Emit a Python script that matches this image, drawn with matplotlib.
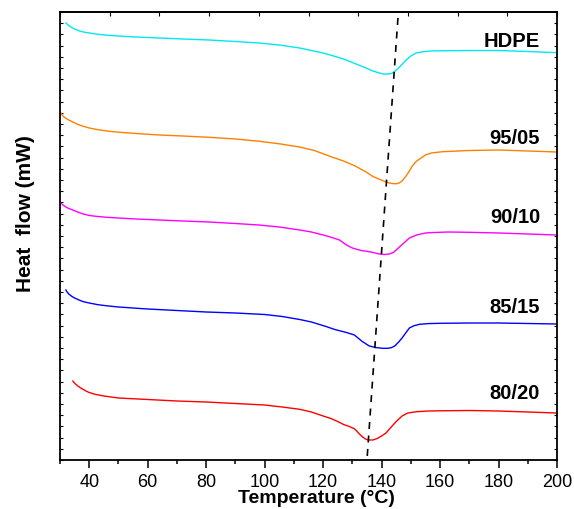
import numpy as np
import matplotlib
matplotlib.use('Agg')
import matplotlib.pyplot as plt

# DSC heating curves. Heat flow is in arbitrary offset units
# (curves are stacked), given as depth below the top of the frame.
T_hdpe = [32, 32.5, 33, 34, 35, 36.5, 38, 40, 43, 46, 50, 56, 64, 72, 81, 90, 98, 105, 112,
          116, 120, 123, 127, 130, 134.7, 137, 139.3, 140.2, 141, 142.5, 143.3, 144, 145,
          146.5, 148.4, 150, 151.8, 154, 157, 160, 170, 180, 190, 200]
d_hdpe = [23, 24.3, 25.5, 27.5, 29, 30.8, 32, 33, 34.3, 35.2, 36, 37, 38, 39, 40, 41.5, 43,
          45, 48, 50.5, 53, 55.5, 59, 62.5, 68, 71, 73, 73.7, 74, 74, 73.5, 72.5, 70, 66, 60,
          56, 53, 51.8, 51, 50.8, 50.5, 50.5, 51.5, 52.7]

T_9505 = [30, 30.5, 31, 32, 33, 34.4, 36, 38, 40, 43, 46, 50, 56, 64, 72, 81, 90, 98, 105,
          112, 117, 123, 127, 131, 134.7, 137, 139.9, 142, 143.5, 145, 146, 147, 148.4,
          149.5, 150.5, 152, 155, 157, 160.8, 170, 180, 190, 200]
d_9505 = [112, 114, 116, 118.3, 120, 122, 124.3, 126.3, 128, 129.7, 131, 132.2, 133.5, 135,
          136, 137.3, 139, 141.2, 143.8, 147, 150.5, 157, 161, 166, 172, 176.5, 180, 182.5,
          183.5, 183.8, 183, 181, 176, 171, 166, 161, 155, 153, 151.7, 150.5, 150, 151, 152]

T_9010 = [30, 30.5, 31, 32, 33, 34.4, 36, 38, 40, 43, 46, 50, 56, 64, 72, 81, 90, 98, 105,
          112, 116, 120, 122.5, 125.6, 128, 130, 133, 136.4, 139.2, 141, 142.6, 144, 145,
          146.5, 148, 149.5, 152, 155, 158, 162.7, 170, 180, 190, 200]
d_9010 = [202, 203.5, 205, 207, 208.5, 210, 212, 214, 215.5, 216.5, 217.3, 218, 219, 220,
          221, 222, 223.5, 225, 227, 230, 232, 235, 237, 240, 245, 248, 250.5, 252, 254,
          254.5, 254, 252.5, 250, 246, 242, 238, 235, 233, 232.5, 232, 232.3, 233, 234, 235]

T_8515 = [32, 32.5, 33, 34, 35, 36.5, 38, 40, 43, 46, 50, 60, 70, 80, 90, 100, 106, 112,
          116, 121, 124, 126, 128, 130.7, 133.4, 135.8, 138, 140.3, 142, 143.3, 144.5, 146,
          147, 148, 149.5, 151, 153, 156, 160, 170, 180, 190, 200]
d_8515 = [290, 292.2, 294, 296.3, 298, 300, 301.7, 303, 304.7, 305.8, 307, 309, 310.5, 312,
          313, 314.5, 316.5, 319.5, 322, 326.5, 329.5, 331, 332.5, 335, 341.5, 346, 347.5,
          348.3, 348.3, 347.7, 346, 341.5, 338, 334, 328, 325.8, 324.3, 323.6, 323.3, 323,
          323, 323.5, 324]

T_8020 = [34.4, 34.8, 35.3, 36, 37, 38, 39, 40, 42, 45, 50, 60, 70, 80, 90, 100, 106, 112,
          116, 120, 122.5, 125, 127, 129, 130.7, 131.5, 132.4, 133.5, 134.5, 135.5, 137,
          138.5, 140, 141.5, 143, 145, 147, 149, 152, 156, 160, 170, 180, 190, 200]
d_8020 = [381, 382.5, 384, 385.8, 387.8, 389.5, 391.2, 392.5, 394.3, 396, 398, 399.5, 401,
          402, 403.5, 405, 407, 409.3, 412, 416, 418.3, 421.5, 424.5, 426.5, 428.8, 431,
          434, 437, 439, 440, 440, 438.5, 436, 433, 428, 421.5, 416, 413, 411.7, 411,
          410.8, 410.5, 411, 412, 413]

series = [
    ('HDPE', T_hdpe, d_hdpe, '#00E8F0', 47),
    ('95/05', T_9505, d_9505, '#FF8000', 144),
    ('90/10', T_9010, d_9010, '#FF00FF', 223),
    ('85/15', T_8515, d_8515, '#0000FF', 313),
    ('80/20', T_8020, d_8020, '#FF0000', 399),
]

# dashed guide through the melting peaks
peak_T = [145.6, 135.0]
peak_d = [18, 460]

FRAME = 460  # depth of the frame bottom


def hf(depth):
    return FRAME - np.asarray(depth, dtype=float)


plt.rcParams['font.family'] = ['Liberation Sans', 'DejaVu Sans']

fig = plt.figure(figsize=(5.74, 5.09), dpi=100)
ax = fig.add_axes([60 / 574, 1 - 460 / 509, 497 / 574, 448 / 509])

for name, T, d, col, ylab in series:
    ax.plot(T, hf(d), color=col, lw=1.0)
    ax.text(194.2, hf(ylab), name, ha='right', va='baseline',
            fontsize=14.5, fontweight='bold')

ax.plot(peak_T, hf(peak_d), color='black', lw=1.2, dashes=(4.2, 3.9))

ax.set_xlim(30, 200)
ax.set_ylim(0, 448)

ax.set_xticks(np.arange(40, 201, 20))
ax.set_xticks(np.arange(30, 201, 10), minor=True)
ax.tick_params(axis='x', which='major', direction='out', length=6, width=1.1,
               labelsize=13, pad=4)
ax.tick_params(axis='x', which='minor', direction='out', length=3, width=1.1)

ax.set_yticks(np.linspace(0, 448, 41))
ax.tick_params(axis='y', which='major', direction='in', length=2.2, width=0.8,
               left=True, right=True, labelleft=False)

# top ticks: 10 equal divisions
top = ax.secondary_xaxis('top')
top.set_xticks(np.linspace(30, 200, 11))
top.tick_params(direction='in', length=3, width=0.8, labeltop=False)
top.spines['top'].set_linewidth(1.3)

for s in ax.spines.values():
    s.set_linewidth(1.3)

ax.set_xlabel('Temperature (°C)', fontsize=14, fontweight='bold')
ax.xaxis.set_label_coords(0.515, -0.068)
ax.set_ylabel('Heat  flow (mW)', fontsize=15, fontweight='bold')
ax.yaxis.set_label_coords(-0.05, 0.551)

fig.savefig('out.png', dpi=100)
